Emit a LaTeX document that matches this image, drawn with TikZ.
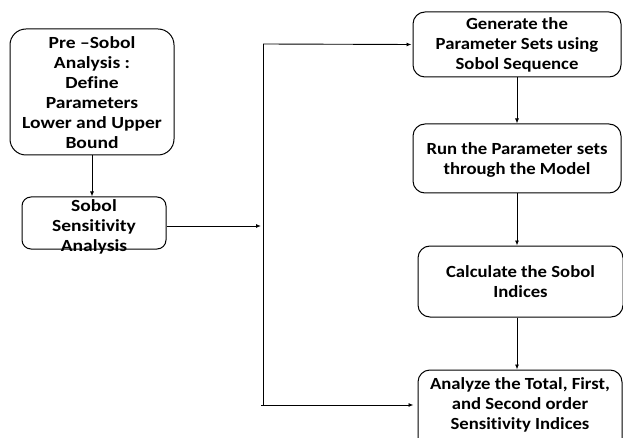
\documentclass[tikz,border=0pt]{standalone}
\usepackage{fontspec}
\setmainfont{Carlito}[Ligatures=NoCommon]
\newfontfamily\widefont{Carlito}[FakeStretch=1.1,Ligatures=NoCommon]
\newfontfamily\widerfont{Carlito}[FakeStretch=1.15,Ligatures=NoCommon]
\usetikzlibrary{arrows.meta}
\begin{document}
\begin{tikzpicture}[x=1pt,y=-1pt,
  box/.style={draw,line width=1pt,rounded corners=12pt,inner sep=0pt},
  txt/.style={align=center,inner sep=0pt,font=\widefont\fontsize{17}{20}\selectfont\bfseries},
  txtl/.style={txt,font=\widerfont\fontsize{17}{20}\selectfont\bfseries},
  conn/.style={line width=0.9pt},
  arr/.style={conn,-{Latex[length=5pt,width=4pt]}}]
\useasboundingbox (0,0) rectangle (623,438);
\clip (0,0) rectangle (623,438);
% boxes
\node[box,minimum width=164pt,minimum height=126pt,rounded corners=16pt] (b1) at (92,92) {};
\node[txtl] (t1) at (92,93) {Pre –Sobol\\Analysis :\\Define\\Parameters\\Lower and Upper\\Bound};
\node[box,minimum width=144pt,minimum height=52pt,rounded corners=9pt] (b2) at (94,223) {};
\node[txtl] (t2) at (94,227) {Sobol\\Sensitivity\\Analysis};
\node[box,minimum width=208pt,minimum height=65pt] (b3) at (517,44.5) {};
\node[txt] (t3) at (517,45) {Generate the\\Parameter Sets using\\Sobol Sequence};
\node[box,minimum width=208pt,minimum height=69pt] (b4) at (517,158.5) {};
\node[txt] (t4) at (517,160) {Run the Parameter sets\\through the Model};
\node[box,minimum width=205pt,minimum height=71pt] (b5) at (520.5,281.5) {};
\node[txt] (t5) at (520.5,282) {Calculate the Sobol\\Indices};
\node[box,minimum width=204pt,minimum height=80pt] (b6) at (520,410) {};
\node[txt] (t6) at (520,405) {Analyze the Total, First,\\and Second order\\Sensitivity Indices};
% connectors
\coordinate (jr) at (261,226);
\coordinate (top) at (263,44);
\coordinate (bot) at (261,405);
\draw[arr] (b1.south -| 92,0) -- (b2.north -| 92,0);
\draw[arr] (b2.east |- jr) -- (jr);
\draw[conn] (263,44) -- (263,405);
\draw[arr] (top) -- ([xshift=-1pt]b3.west);
\draw[arr] (bot) -- ([xshift=-4pt]bot -| b6.west);
\draw[arr] (b3.south) -- (b4.north);
\draw[arr] (b4.south -| 517,0) -- (b5.north -| 517,0);
\draw[arr] (b5.south -| 517,0) -- (b6.north -| 517,0);
\end{tikzpicture}
\end{document}
